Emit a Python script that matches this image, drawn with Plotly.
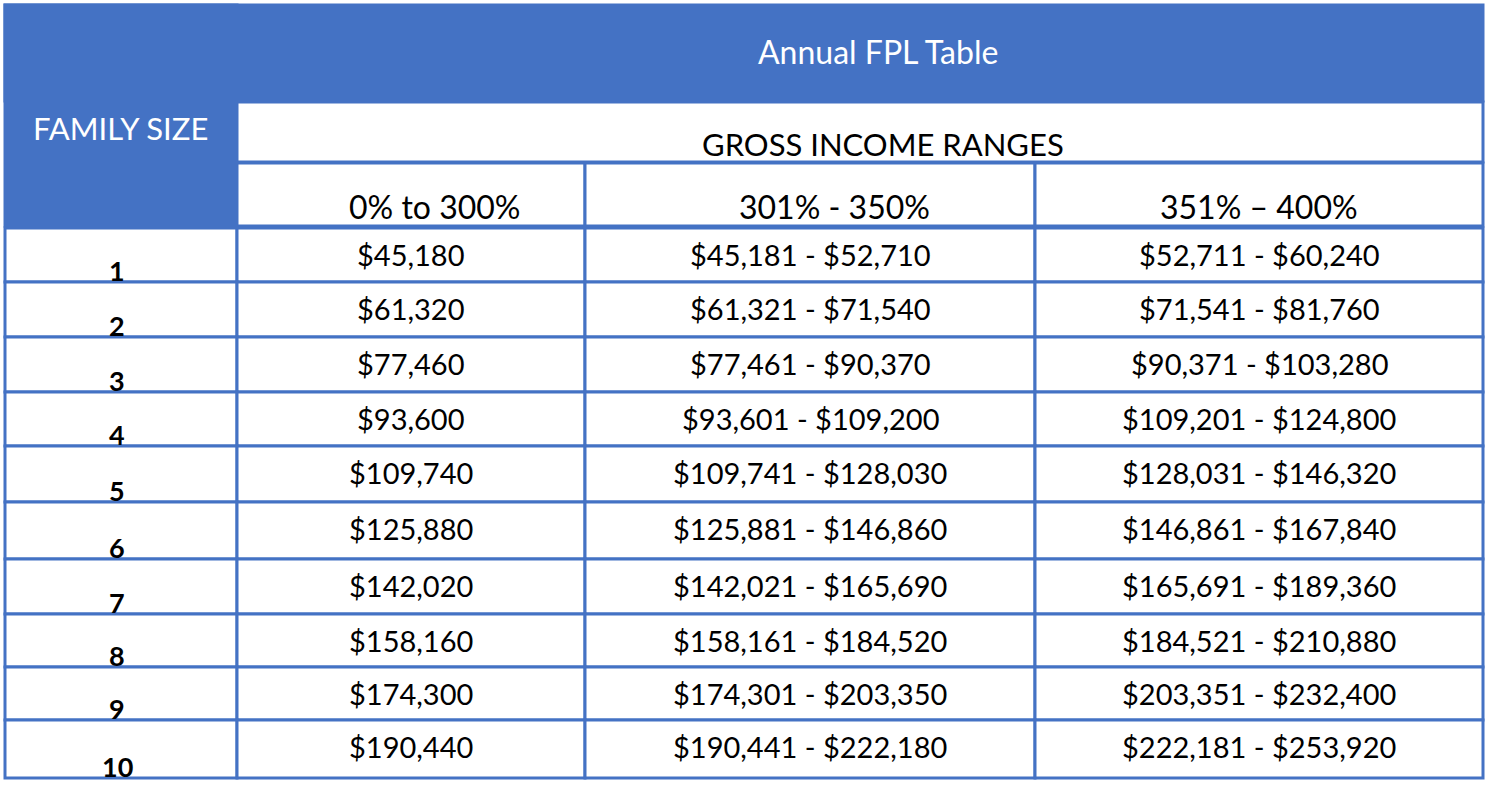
import plotly.graph_objects as go

title = "Annual FPL Table"
left_header = "FAMILY SIZE"
group_header = "GROSS INCOME RANGES"
col_headers = ["0% to 300%", "301% - 350%", "351% \u2013 400%"]
family_sizes = ["1", "2", "3", "4", "5", "6", "7", "8", "9", "10"]
col_300 = ["$45,180", "$61,320", "$77,460", "$93,600", "$109,740", "$125,880",
           "$142,020", "$158,160", "$174,300", "$190,440"]
col_350 = ["$45,181 - $52,710", "$61,321 - $71,540", "$77,461 - $90,370",
           "$93,601 - $109,200", "$109,741 - $128,030", "$125,881 - $146,860",
           "$142,021 - $165,690", "$158,161 - $184,520", "$174,301 - $203,350",
           "$190,441 - $222,180"]
col_400 = ["$52,711 - $60,240", "$71,541 - $81,760", "$90,371 - $103,280",
           "$109,201 - $124,800", "$128,031 - $146,320", "$146,861 - $167,840",
           "$165,691 - $189,360", "$184,521 - $210,880", "$203,351 - $232,400",
           "$222,181 - $253,920"]

BLUE = "#4472C4"
FONT = "Lato"
W, H = 1491, 785
xs = [5, 237, 585, 1035, 1483]
row_tops = [228, 282, 337, 392, 446, 502, 559, 614, 667, 720, 778]

fig = go.Figure()
shapes = []
ann = []

def cell(x0, y0, x1, y1, fill="white"):
    shapes.append(dict(type="rect", x0=x0, y0=y0, x1=x1, y1=y1, fillcolor=fill,
                       line=dict(color=BLUE, width=3), layer="below"))

def text(x, y, s, size=22, color="black", bold=False):
    ann.append(dict(x=x, y=y, text=f"<b>{s}</b>" if bold else s, showarrow=False,
                    font=dict(family=FONT, size=size, color=color),
                    xanchor="center", yanchor="middle"))

# header blocks
cell(xs[0], 5, xs[4], 101, fill=BLUE)
cell(xs[0], 5, xs[1], 226, fill=BLUE)
cell(xs[1], 102, xs[4], 162)
for i in range(3):
    cell(xs[i + 1], 163, xs[i + 2], 226)
text(878, 51, title, size=32, color="white")
text(120, 128, left_header, size=31, color="white")
text(883, 144, group_header, size=31)
col_x = [434, 834, 1259]
for cx, h in zip(col_x, col_headers):
    text(cx, 206, h, size=32)

# data rows
cols = [col_300, col_350, col_400]
for r, fs in enumerate(family_sizes):
    y0, y1 = row_tops[r], row_tops[r + 1]
    for c in range(4):
        cell(xs[c], y0, xs[c + 1], y1)
    text(117, y1 - 12, fs, size=27, bold=True)
    for c in range(3):
        text((xs[c + 1] + xs[c + 2]) / 2, y0 + 26, cols[c][r], size=29)

fig.update_layout(
    width=W, height=H, margin=dict(l=0, r=0, t=0, b=0),
    plot_bgcolor="white", paper_bgcolor="white",
    shapes=shapes, annotations=ann, showlegend=False,
    xaxis=dict(range=[0, W], visible=False, fixedrange=True),
    yaxis=dict(range=[H, 0], visible=False, fixedrange=True),
)
fig.write_html("out.html", config={"displayModeBar": False},
               post_script="document.body.style.margin='0';document.body.style.overflow='hidden';")
